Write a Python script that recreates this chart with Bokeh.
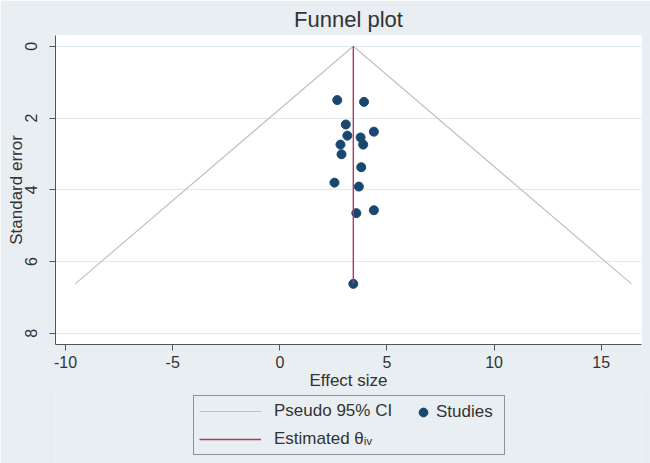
from bokeh.plotting import figure
from bokeh.layouts import column
from bokeh.models import Legend, LegendItem, Range1d, FixedTicker, CustomJSTickFormatter
from bokeh.embed import file_html
from bokeh.resources import INLINE

# ---- data ----
study_effect = [2.68, 3.93, 3.08, 4.39, 3.15, 3.77, 3.89, 2.83, 2.88, 3.80, 2.55, 3.69, 4.39, 3.57, 3.43]
study_se = [1.50, 1.55, 2.18, 2.38, 2.49, 2.54, 2.74, 2.74, 3.01, 3.37, 3.80, 3.91, 4.57, 4.65, 6.62]

ci_effect = [-9.55, 3.43, 16.41]
ci_se = [6.62, 0.0, 6.62]

est_effect = [3.43, 3.43]
est_se = [0.0, 6.62]

x_ticks = [-10, -5, 0, 5, 10, 15]
y_ticks = [0, 2, 4, 6, 8]

BG = "#e8eef1"
TXT = "#333333"
FONT = "Liberation Sans"
CI_COLOR = "#c2c2c2"
EST_COLOR = "#b03a5b"
PT_COLOR = "#1a476f"

p = figure(width=650, height=392, output_backend="svg", toolbar_location=None,
           x_range=Range1d(-10.47, 16.88), y_range=Range1d(8.31, -0.30),
           min_border_left=55, min_border_right=9, min_border_top=35, min_border_bottom=48,
           background_fill_color="white", border_fill_color=BG, outline_line_color=None,
           title="Funnel plot")

p.title.align = "center"
p.title.text_font = FONT
p.title.text_font_size = "22px"
p.title.text_font_style = "normal"
p.title.text_color = TXT
p.title.standoff = 8

ci = p.line(ci_effect, ci_se, line_color=CI_COLOR, line_width=1.2)
pts = p.scatter(study_effect, study_se, size=9, fill_color=PT_COLOR, line_color=PT_COLOR)
est = p.line(est_effect, est_se, line_color=EST_COLOR, line_width=1.4)

fmt = CustomJSTickFormatter(code="return tick.toString();")
for ax in (p.xaxis[0], p.yaxis[0]):
    ax.axis_line_color = "#555555"
    ax.major_tick_line_color = "#555555"
    ax.major_tick_out = 6
    ax.major_tick_in = 0
    ax.minor_tick_line_color = None
    ax.major_label_text_font = FONT
    ax.major_label_text_font_size = "16px"
    ax.major_label_text_color = TXT
    ax.axis_label_text_font = FONT
    ax.axis_label_text_font_size = "17px"
    ax.axis_label_text_font_style = "normal"
    ax.axis_label_text_color = TXT
    ax.formatter = fmt

p.xaxis.axis_label = "Effect size"
p.yaxis.axis_label = "Standard error"
p.xaxis.ticker = FixedTicker(ticks=x_ticks)
p.yaxis.ticker = FixedTicker(ticks=y_ticks)
p.xaxis.major_label_standoff = 5
p.xaxis.axis_label_standoff = 0
p.yaxis.major_label_standoff = 12
p.yaxis.axis_label_standoff = -3
p.yaxis.major_label_orientation = "parallel"

p.xgrid.visible = False
p.ygrid.grid_line_color = "#e2e9ed"
p.ygrid.grid_line_width = 1

# ---- legend panel below the plot (its ranges keep the key renderers out of view) ----
q = figure(width=650, height=72, output_backend="svg", toolbar_location=None,
           x_range=Range1d(100, 101), y_range=Range1d(100, 101),
           min_border_left=55, min_border_right=9, min_border_top=0, min_border_bottom=0,
           background_fill_color=BG, border_fill_color=BG, outline_line_color=None,
           margin=(-1, 0, 0, 0))
q.axis.visible = False
q.grid.visible = False
key_ci = q.line(ci_effect, ci_se, line_color=CI_COLOR, line_width=1.2)
key_est = q.line(est_effect, est_se, line_color=EST_COLOR, line_width=1.4)
key_pts = q.scatter(study_effect, study_se, size=9, fill_color=PT_COLOR, line_color=PT_COLOR)

legA = Legend(items=[LegendItem(label="Pseudo 95% CI", renderers=[key_ci]),
                     LegendItem(label="Estimated θᵢᵥ", renderers=[key_est])],
              location=(138, 8), orientation="vertical",
              glyph_width=62, glyph_height=20, label_height=20, label_width=225,
              label_standoff=13, padding=5, spacing=8, margin=0,
              border_line_color="#333333", border_line_width=1,
              background_fill_color=BG, background_fill_alpha=1,
              label_text_font=FONT, label_text_font_size="17px", label_text_color=TXT)
legB = Legend(items=[LegendItem(label="Studies", renderers=[key_pts])],
              location=(357, 40), orientation="vertical",
              glyph_width=22, glyph_height=22, label_height=22,
              label_standoff=2, padding=0, margin=0,
              border_line_color=None, background_fill_alpha=0,
              label_text_font=FONT, label_text_font_size="17px", label_text_color=TXT)
q.add_layout(legA)
q.add_layout(legB)

layout = column(p, q, spacing=0)
html = file_html(layout, INLINE)
html = html.replace("<body>", '<body style="background-color:%s">' % BG, 1)
open("out.html", "w").write(html)
